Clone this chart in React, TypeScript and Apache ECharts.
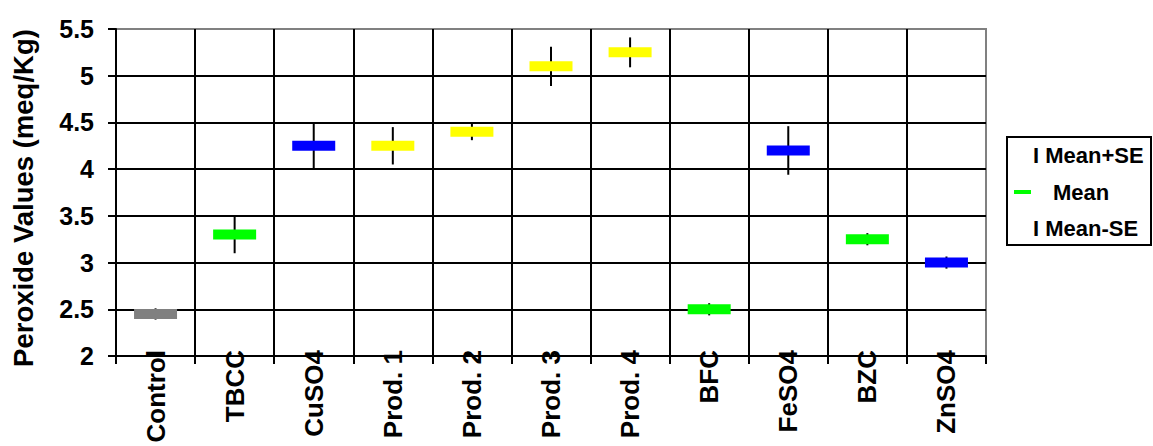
import React, { useEffect, useRef } from "react";
import * as echarts from "echarts";

const categories = ["Control", "TBCC", "CuSO4", "Prod. 1", "Prod. 2", "Prod. 3", "Prod. 4", "BFC", "FeSO4", "BZC", "ZnSO4"];
const means = [2.45, 3.3, 4.25, 4.25, 4.4, 5.1, 5.25, 2.5, 4.2, 3.25, 3.0];
const ses = [0.06, 0.2, 0.25, 0.2, 0.09, 0.21, 0.16, 0.065, 0.26, 0.065, 0.065];
const barColors = ["#808080", "#00ff00", "#0000ff", "#ffff00", "#ffff00", "#ffff00", "#ffff00", "#00ff00", "#0000ff", "#00ff00", "#0000ff"];
const legendItems = ["I Mean+SE", "Mean", "I Mean-SE"];

const FONT = "'Liberation Sans', Arial, sans-serif";

export default function App() {
  const ref = useRef<HTMLDivElement>(null);
  useEffect(() => {
    const chart = echarts.init(ref.current!, undefined, { renderer: "svg" });
    const data = categories.map((c, i) => [i, means[i], means[i] - ses[i], means[i] + ses[i]]);
    chart.setOption({
      animation: false,
      backgroundColor: "#ffffff",
      grid: {
        left: 116,
        top: 29,
        width: 870,
        height: 327,
        show: true,
        borderColor: "#808080",
        borderWidth: 2,
        backgroundColor: "transparent",
      },
      xAxis: {
        type: "category",
        data: categories,
        boundaryGap: true,
        axisLine: { lineStyle: { color: "#000", width: 2 } },
        axisTick: { show: true, interval: 0, length: 8, lineStyle: { color: "#000", width: 2 } },
        splitLine: { show: true, interval: 0, showMinLine: false, showMaxLine: false, lineStyle: { color: "#000", width: 2 } },
        axisLabel: {
          interval: 0,
          rotate: 90,
          margin: -6,
          color: "#000",
          fontFamily: FONT,
          fontWeight: "bold",
          fontSize: 26,
        },
      },
      yAxis: {
        type: "value",
        min: 2,
        max: 5.5,
        interval: 0.5,
        axisLine: { show: true, lineStyle: { color: "#000", width: 2 } },
        axisTick: { show: true, length: 8, lineStyle: { color: "#000", width: 2 } },
        splitLine: { show: true, showMaxLine: false, lineStyle: { color: "#000", width: 2 } },
        axisLabel: {
          margin: 22,
          color: "#000",
          fontFamily: FONT,
          fontWeight: "bold",
          fontSize: 25,
        },
      },
      series: [
        {
          type: "custom",
          data,
          renderItem: (params: any, api: any) => {
            const i = api.value(0);
            const m = api.value(1);
            const lo = api.value(2);
            const hi = api.value(3);
            const pm = api.coord([i, m]);
            const pl = api.coord([i, lo]);
            const ph = api.coord([i, hi]);
            return {
              type: "group",
              children: [
                {
                  type: "line",
                  shape: { x1: pm[0], y1: ph[1], x2: pm[0], y2: pl[1] },
                  style: { stroke: "#000", lineWidth: 2 },
                },
                {
                  type: "rect",
                  shape: { x: pm[0] - 21.5, y: pm[1] - 5, width: 43, height: 10 },
                  style: { fill: barColors[params.dataIndex] },
                },
              ],
            };
          },
        },
      ],
      graphic: [
        {
          type: "text",
          x: 23,
          y: 198,
          rotation: Math.PI / 2,
          style: {
            text: "Peroxide Values (meq/Kg)",
            fontFamily: FONT,
            fontWeight: "bold",
            fontSize: 27.5,
            fill: "#000",
            align: "center",
            verticalAlign: "middle",
          },
        },
        {
          type: "rect",
          shape: { x: 1007, y: 137, width: 144, height: 108 },
          style: { fill: "#fff", stroke: "#000", lineWidth: 2 },
        },
        {
          type: "text",
          x: 1033,
          y: 155,
          style: { text: legendItems[0], fontFamily: FONT, fontWeight: "bold", fontSize: 22, fill: "#000", verticalAlign: "middle" },
        },
        {
          type: "rect",
          shape: { x: 1014, y: 190, width: 17, height: 4 },
          style: { fill: "#00ff00" },
        },
        {
          type: "text",
          x: 1053,
          y: 192,
          style: { text: legendItems[1], fontFamily: FONT, fontWeight: "bold", fontSize: 22, fill: "#000", verticalAlign: "middle" },
        },
        {
          type: "text",
          x: 1033,
          y: 228,
          style: { text: legendItems[2], fontFamily: FONT, fontWeight: "bold", fontSize: 22, fill: "#000", verticalAlign: "middle" },
        },
      ],
    });
    return () => chart.dispose();
  }, []);
  return <div ref={ref} style={{ position: "fixed", left: 0, top: 0, width: 1153, height: 446 }} />;
}
